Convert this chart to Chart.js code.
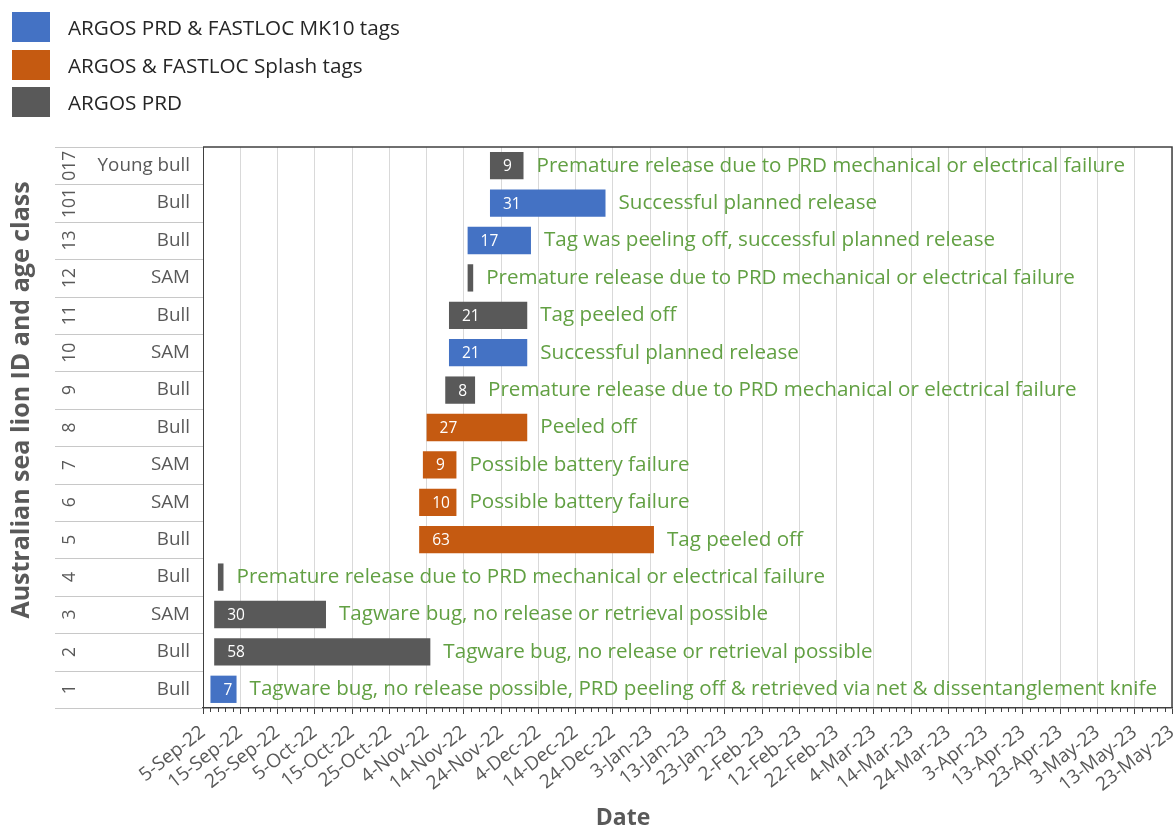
<!DOCTYPE html>
<html>
<head>
<meta charset="utf-8">
<script src="https://cdn.jsdelivr.net/npm/chart.js@4.4.1/dist/chart.umd.min.js"></script>
<style>
  html, body { margin: 0; padding: 0; background: #ffffff; }
  #wrap { position: relative; width: 1176px; height: 831px; overflow: hidden; }
  #c { position: absolute; left: 0; top: 0; }
  #legend { position: absolute; left: 12px; top: 12px; font-family: "Open Sans", "Noto Sans", sans-serif; font-size: 20.7px; color: #262626; }
  .li { display: flex; align-items: center; height: 30px; margin-bottom: 7.5px; }
  .sw { width: 38px; height: 30px; margin-right: 18px; }
</style>
</head>
<body>
<div id="wrap">
  <canvas id="c" width="1176" height="831"></canvas>
  <div id="legend"></div>
</div>
<script>
// ---- data (top row first) ----
const ids      = ["017", "101", "13", "12", "11", "10", "9", "8", "7", "6", "5", "4", "3", "2", "1"];
const ageClass = ["Young bull", "Bull", "Bull", "SAM", "Bull", "SAM", "Bull", "Bull", "SAM", "SAM", "Bull", "Bull", "SAM", "Bull", "Bull"];
// start day counted from 5-Sep-22, and deployment length in days
const startDay = [77, 77, 71, 71, 66, 66, 65, 60, 59, 58, 58, 4, 3, 3, 2];
const duration = [9, 31, 17, 1.5, 21, 21, 8, 27, 9, 10, 63, 1.5, 30, 58, 7];
const dayLabel = ["9", "31", "17", null, "21", "21", "8", "27", "9", "10", "63", null, "30", "58", "7"];
const tagType  = [2, 0, 0, 2, 2, 0, 2, 1, 1, 1, 1, 2, 2, 2, 0];
const notes = [
  "Premature release due to PRD mechanical or electrical failure",
  "Successful planned release",
  "Tag was peeling off, successful planned release",
  "Premature release due to PRD mechanical or electrical failure",
  "Tag peeled off",
  "Successful planned release",
  "Premature release due to PRD mechanical or electrical failure",
  "Peeled off",
  "Possible battery failure",
  "Possible battery failure",
  "Tag peeled off",
  "Premature release due to PRD mechanical or electrical failure",
  "Tagware bug, no release or retrieval possible",
  "Tagware bug, no release or retrieval possible",
  "Tagware bug, no release possible, PRD peeling off & retrieved via net & dissentanglement knife"
];
const seriesNames = ["ARGOS PRD & FASTLOC MK10 tags", "ARGOS & FASTLOC Splash tags", "ARGOS PRD"];
const tickLabels = ["5-Sep-22","15-Sep-22","25-Sep-22","5-Oct-22","15-Oct-22","25-Oct-22","4-Nov-22","14-Nov-22","24-Nov-22","4-Dec-22","14-Dec-22","24-Dec-22","3-Jan-23","13-Jan-23","23-Jan-23","2-Feb-23","12-Feb-23","22-Feb-23","4-Mar-23","14-Mar-23","24-Mar-23","3-Apr-23","13-Apr-23","23-Apr-23","3-May-23","13-May-23","23-May-23"];
const axisMin = 0, axisMax = 260, majorStep = 10, minorStep = 2;

// ---- styles ----
const colors = ["#4472C4", "#C55A11", "#595959"];
const noteColor = "#62A043";
const FONT = "'Open Sans', 'Noto Sans', sans-serif";

// legend
const lg = document.getElementById('legend');
seriesNames.forEach((n, i) => {
  const d = document.createElement('div'); d.className = 'li';
  const s = document.createElement('div'); s.className = 'sw'; s.style.background = colors[i];
  const t = document.createElement('span'); t.textContent = n;
  d.appendChild(s); d.appendChild(t); lg.appendChild(d);
});

const decor = {
  id: 'decor',
  afterDraw(chart) {
    const ctx = chart.ctx, ca = chart.chartArea;
    const xs = chart.scales.x, ys = chart.scales.y;
    ctx.save();
    // frame top/right
    ctx.strokeStyle = '#404040'; ctx.lineWidth = 1.5;
    ctx.beginPath();
    ctx.moveTo(ca.left, ca.top); ctx.lineTo(ca.right, ca.top); ctx.lineTo(ca.right, ca.bottom);
    ctx.stroke();
    // minor ticks
    ctx.strokeStyle = '#404040'; ctx.lineWidth = 1;
    for (let d = axisMin; d <= axisMax; d += minorStep) {
      if (d % majorStep === 0) continue;
      const x = Math.round(xs.getPixelForValue(d)) + 0.5;
      ctx.beginPath(); ctx.moveTo(x, ca.bottom); ctx.lineTo(x, ca.bottom + 4); ctx.stroke();
    }
    // row separators in label area
    ctx.strokeStyle = '#c8c8c8'; ctx.lineWidth = 1;
    for (let i = 0; i <= ids.length; i++) {
      const y = Math.round(ys.getPixelForValue(i - 0.5)) + 0.5;
      ctx.beginPath(); ctx.moveTo(55, y); ctx.lineTo(ca.left, y); ctx.stroke();
    }
    // category labels
    ctx.fillStyle = '#595959';
    ids.forEach((id, i) => {
      const y = ys.getPixelForValue(i);
      ctx.save();
      ctx.translate(70, y); ctx.rotate(-Math.PI / 2);
      ctx.font = "17.5px " + FONT; ctx.textAlign = 'center'; ctx.textBaseline = 'middle';
      ctx.fillText(id, 0, 0);
      ctx.restore();
      ctx.font = "18.8px " + FONT; ctx.textAlign = 'right'; ctx.textBaseline = 'middle';
      ctx.fillText(ageClass[i], 190, y);
    });
    // bar labels + notes
    const meta = chart.getDatasetMeta(0);
    meta.data.forEach((el, i) => {
      const p = el.getProps(['x', 'y', 'base'], true);
      const l = Math.min(p.x, p.base), r = Math.max(p.x, p.base);
      if (dayLabel[i]) {
        ctx.font = "15.5px " + FONT; ctx.fillStyle = '#ffffff';
        ctx.textAlign = 'left'; ctx.textBaseline = 'middle';
        ctx.fillText(dayLabel[i], l + 13, p.y + 1);
      }
      ctx.font = "20.6px " + FONT; ctx.fillStyle = noteColor;
      ctx.textAlign = 'left'; ctx.textBaseline = 'middle';
      ctx.fillText(notes[i], r + 13, p.y);
    });
    // axis titles
    ctx.fillStyle = '#595959';
    ctx.font = "bold 23px " + FONT; ctx.textAlign = 'center'; ctx.textBaseline = 'middle';
    ctx.fillText("Date", 623, 818);
    ctx.save();
    ctx.translate(22, 400); ctx.rotate(-Math.PI / 2);
    ctx.font = "bold 25px " + FONT;
    ctx.fillText("Australian sea lion ID and age class", 0, 0);
    ctx.restore();
    ctx.restore();
  }
};

new Chart(document.getElementById('c'), {
  type: 'bar',
  data: {
    labels: ids,
    datasets: [{
      label: 'deployment',
      data: startDay.map((s, i) => [s, s + duration[i]]),
      backgroundColor: tagType.map(t => colors[t]),
      borderWidth: 0,
      barPercentage: 0.73,
      categoryPercentage: 1.0
    }]
  },
  options: {
    indexAxis: 'y',
    responsive: false,
    animation: false,
    devicePixelRatio: 1,
    layout: { padding: { top: 147, right: 4, left: 0, bottom: 0 } },
    plugins: { legend: { display: false }, tooltip: { enabled: false } },
    scales: {
      x: {
        type: 'linear', min: axisMin, max: axisMax,
        afterFit(s) { s.height = 123; s.paddingLeft = 0; s.paddingRight = 0; },
        grid: { color: '#d9d9d9', lineWidth: 1, drawTicks: true, tickLength: 6, tickColor: '#404040' },
        border: { color: '#404040', width: 1.5 },
        ticks: {
          stepSize: majorStep, autoSkip: false, maxRotation: 38, minRotation: 38,
          color: '#595959', font: { family: FONT, size: 19 }, padding: 7,
          callback: (v, i) => tickLabels[i]
        }
      },
      y: {
        afterFit(s) { s.width = 203; },
        grid: { display: false },
        border: { color: '#404040', width: 1 },
        ticks: { display: false }
      }
    }
  },
  plugins: [decor]
});
</script>
</body>
</html>
